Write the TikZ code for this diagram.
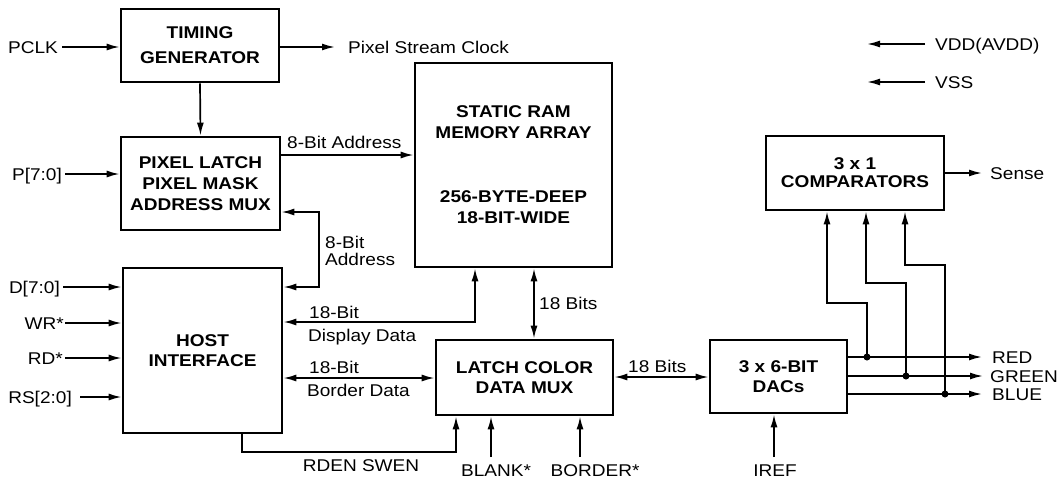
\documentclass[tikz,border=0pt]{standalone}
\usepackage{fontspec}
\setmainfont{Liberation Sans}[FakeStretch=1.12]
\usetikzlibrary{arrows.meta}
\begin{document}
\begin{tikzpicture}[x=1pt,y=-1pt,
  blk/.style={draw, line width=2.8pt, align=center, inner sep=0pt,
    font=\fontsize{17}{21}\selectfont\bfseries},
  lbl/.style={inner sep=0pt, text height=12.2pt, text depth=0pt,
    font=\fontsize{17}{17}\selectfont},
  lbl2/.style={inner sep=0pt, align=left, font=\fontsize{17}{17}\selectfont},
  arr/.style={line width=1.7pt, -{Latex[length=13pt,width=7pt]}},
  arrb/.style={line width=1.7pt, {Latex[length=13pt,width=7pt]}-{Latex[length=13pt,width=7pt]}},
  dot/.style={circle, fill, inner sep=0pt, minimum size=7pt}
]
\useasboundingbox (0,0) rectangle (1064,479);

% blocks
\node[blk, minimum width=158pt, minimum height=73pt] (tg) at (200,45.5) {TIMING\\[4pt]GENERATOR};
\node[blk, minimum width=159pt, minimum height=93pt] (pl) at (200.5,183.5) {PIXEL LATCH\\PIXEL MASK\\ADDRESS MUX};
\node[blk, minimum width=197pt, minimum height=204pt] (ram) at (513.5,165) {STATIC RAM\\MEMORY ARRAY\\[43pt]256-BYTE-DEEP\\18-BIT-WIDE};
\node[blk, minimum width=178pt, minimum height=74pt] (cmp) at (855,173) {3 x 1\\[-3pt]COMPARATORS};
\node[blk, minimum width=159pt, minimum height=165pt] (hi) at (202.5,350.5) {HOST\\[-1pt]INTERFACE};
\node[blk, minimum width=177pt, minimum height=75pt] (lc) at (524.5,377.5) {LATCH COLOR\\[-1pt]DATA MUX};
\node[blk, minimum width=137pt, minimum height=73pt] (dac) at (778.5,376.5) {3 x 6-BIT\\[-1pt]DACs};

% input labels
\node[lbl, anchor=east] (pclk) at (58,47) {PCLK};
\node[lbl, anchor=east] (p70) at (62,174) {P[7:0]};
\node[lbl, anchor=east] (d70) at (60,287) {D[7:0]};
\node[lbl, anchor=east] (wr) at (64,323) {WR*};
\node[lbl, anchor=east] (rdl) at (63,358) {RD*};
\node[lbl, anchor=east] (rs) at (72,397) {RS[2:0]};

\draw[arr] ([xshift=4pt]pclk.east) -- (pclk.east -| tg.west);
\draw[arr] ([xshift=3pt]p70.east) -- (p70.east -| pl.west);
\draw[arr] ([xshift=3pt]d70.east) -- (d70.east -| hi.west);
\draw[arr] ([xshift=1pt]wr.east) -- (wr.east -| hi.west);
\draw[arr] ([xshift=2pt]rdl.east) -- (rdl.east -| hi.west);
\draw[arr] ([xshift=8pt]rs.east) -- (rs.east -| hi.west);

% pixel stream clock
\node[lbl, anchor=west] (psc) at (348,47) {Pixel Stream Clock};
\draw[arr] (psc.west -| tg.east) -- ([xshift=-13pt]psc.west);

% timing -> pixel latch
\draw[arr] (tg.south) -- (pl.north);

% 8-bit address to RAM
\coordinate (a8) at (300,155);
\draw[arr] (a8 -| pl.east) -- (a8 -| ram.west);
\node[lbl, anchor=west] (a8l) at (287,142) {8-Bit Address};

% 8-bit address between pixel latch and host
\coordinate (c8) at (319,212);
\coordinate (c8b) at (319,287);
\draw[arrb] (c8 -| pl.east) -- (c8) -- (c8b) -- (c8b -| hi.east);
\node[lbl2, anchor=north west] (a8l2) at (325,236) {8-Bit\\Address};

% display data
\coordinate (dd) at (475,322);
\draw[arrb] (dd -| hi.east) -- (dd) -- (dd |- ram.south);
\node[lbl, anchor=west] (ddl1) at (309,312) {18-Bit};
\node[lbl, anchor=west] (ddl2) at (308,335) {Display Data};

% border data
\coordinate (bd) at (380,378);
\draw[arrb] (bd -| hi.east) -- (bd -| lc.west);
\node[lbl, anchor=west] (bdl1) at (309,367) {18-Bit};
\node[lbl, anchor=west] (bdl2) at (307,390) {Border Data};

% 18 bits vertical
\coordinate (v18) at (534,300);
\draw[arrb] (v18 |- ram.south) -- (v18 |- lc.north);
\node[lbl, anchor=west] (v18l) at (539,303) {18 Bits};

% 18 bits horizontal
\coordinate (h18) at (660,377);
\draw[arrb] (h18 -| lc.east) -- (h18 -| dac.west);
\node[lbl, anchor=west] (h18l) at (628,366) {18 Bits};

% RDEN SWEN
\coordinate (rd1) at (242,452);
\coordinate (rd2) at (456,452);
\draw[arr] (rd1 |- hi.south) -- (rd1) -- (rd2) -- (rd2 |- lc.south);
\node[lbl] (rdl2) at (361,465) {RDEN SWEN};

% BLANK*, BORDER*
\coordinate (bl) at (491,457);
\draw[arr] (bl) -- (bl |- lc.south);
\node[lbl] (blank) at (496,470) {BLANK*};
\coordinate (bo) at (580,457);
\draw[arr] (bo) -- (bo |- lc.south);
\node[lbl] (border) at (595,470) {BORDER*};

% IREF
\coordinate (ir) at (774,457);
\draw[arr] (ir) -- (ir |- dac.south);
\node[lbl] (iref) at (775,470) {IREF};

% outputs
\node[lbl, anchor=west] (red) at (992,357) {RED};
\node[lbl, anchor=west] (green) at (990,376) {GREEN};
\node[lbl, anchor=west] (blue) at (992,394) {BLUE};
\draw[arr] (red.west -| dac.east) -- ([xshift=-8pt]red.west -| green.west);
\draw[arr] (green.west -| dac.east) -- ([xshift=-7pt]green.west);
\draw[arr] (blue.west -| dac.east) -- ([xshift=-8pt]blue.west -| green.west);

% taps to comparators
\node[dot] (dr) at (867,357) {};
\node[dot] (dg) at (906,376) {};
\node[dot] (db) at (945,394) {};
\coordinate (tr1) at (867,303);
\coordinate (tr2) at (827,303);
\coordinate (tg1) at (906,283);
\coordinate (tg2) at (866,283);
\coordinate (tb1) at (945,265);
\coordinate (tb2) at (905,265);
\draw[arr] (dr.center) -- (tr1) -- (tr2) -- (tr2 |- cmp.south);
\draw[arr] (dg.center) -- (tg1) -- (tg2) -- (tg2 |- cmp.south);
\draw[arr] (db.center) -- (tb1) -- (tb2) -- (tb2 |- cmp.south);

% sense
\node[lbl, anchor=west] (sense) at (990,173) {Sense};
\draw[arr] (sense.west -| cmp.east) -- ([xshift=-8pt]sense.west);

% power
\node[lbl, anchor=west] (vdd) at (935,44) {VDD(AVDD)};
\node[lbl, anchor=west] (vss) at (935,82) {VSS};
\draw[arr] ([xshift=-10pt]vdd.west) -- ++(-58,0);
\draw[arr] ([xshift=-10pt]vss.west) -- ++(-58,0);
\end{tikzpicture}
\end{document}
